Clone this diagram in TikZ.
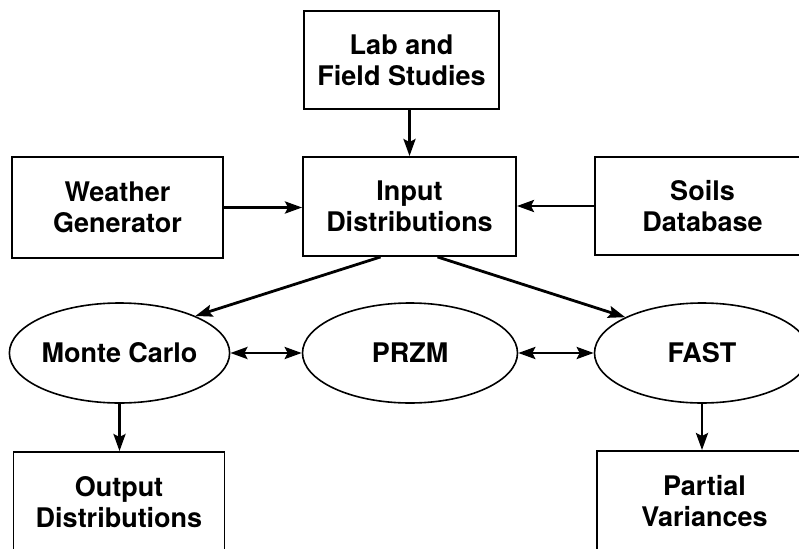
\documentclass[tikz,border=0pt]{standalone}
\usepackage{fontspec}
\setmainfont{TeX Gyre Heros}
\usepackage{tikz}
\usetikzlibrary{
	arrows.meta,
	positioning,
	shapes.geometric
}

\begin{document}
\begin{tikzpicture}[
			x=1pt, y=-1pt,
			font=\fontsize{27}{31}\selectfont\bfseries,
			caixa/.style={draw, line width=1.9pt, minimum width=211pt, minimum height=99pt, align=center, inner sep=0pt},
			oval/.style={draw, ellipse, line width=1.6pt, minimum width=215pt, minimum height=100pt, inner sep=0pt},
			>={Stealth[length=17pt, width=12pt, inset=3pt]},
			tr/.style={->, line width=2.8pt},
			dtr/.style={<->, line width=2.8pt}
		]
		\useasboundingbox (0,0) rectangle (799,548);
		\clip (0,0) rectangle (799,548);

		\node[caixa, minimum width=195pt, minimum height=98pt] (lab) at (401.5,60) {Lab and\\Field Studies};
		\node[caixa, minimum width=213pt] (input) at (409.5,206.5) {Input\\Distributions};
		\node[caixa, minimum height=101pt] (weather) at (117.5,207.5) {Weather\\Generator};
		\node[caixa, minimum width=215pt, minimum height=98pt] (soils) at (702.5,206) {Soils\\Database};

		\node[oval] (mc) at (119.5,353) {Monte Carlo};
		\node[oval] (przm) at (410,353) {PRZM};
		\node[oval] (fast) at (702,353) {FAST};

		\node[caixa, minimum height=100pt] (output) at (119,502) {Output\\Distributions};
		\node[caixa, minimum width=215pt, minimum height=100pt] (partial) at (704.5,501) {Partial\\Variances};

		\draw[tr] (input.north |- lab.south) -- (input.north);
		\draw[tr] (weather.east) -- (weather.east -| input.west);
		\draw[tr] (soils.west) -- (soils.west -| input.east);

		\draw[tr] ([xshift=-29pt]input.south) -- (mc.26);
		\draw[tr] ([xshift=28pt]input.south) -- (fast.155);

		\draw[dtr] (mc.east) -- (przm.west);
		\draw[dtr] (przm.east) -- (fast.west);

		\draw[tr] (mc.south) -- (mc.south |- output.north);
		\draw[tr] (fast.south) -- (fast.south |- partial.north);
	\end{tikzpicture}
\end{document}
